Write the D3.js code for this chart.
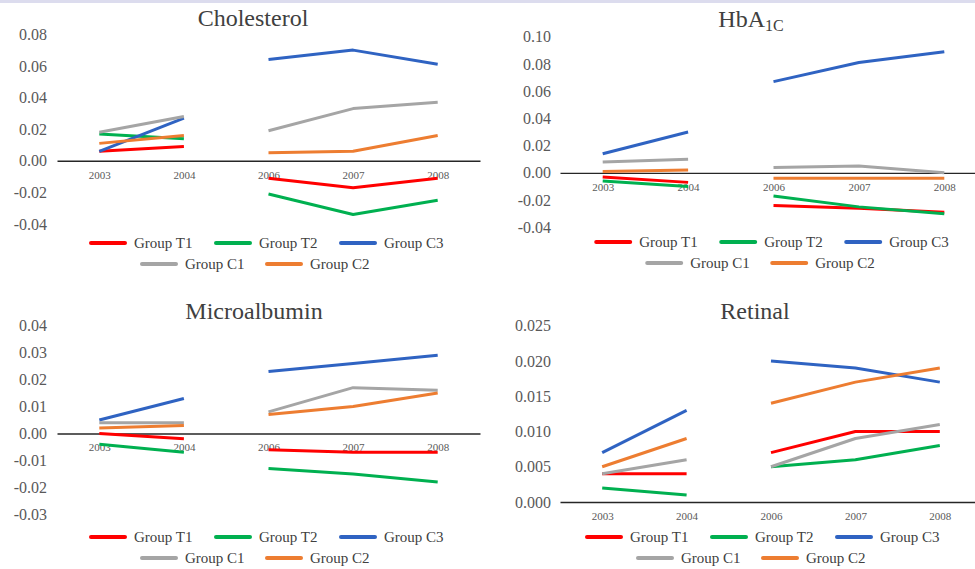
<!DOCTYPE html>
<html>
<head>
<meta charset="utf-8">
<script src="https://cdn.jsdelivr.net/npm/d3@7"></script>
<style>
    body { margin: 0; background: #fff; }
    svg text { font-family: "Liberation Serif", "Times New Roman", serif; }
</style>
</head>
<body>
<svg id="chart" width="975" height="569"></svg>
<script>
// categories (there is no 2005, so the lines break between 2004 and 2006)
const years = ["2003", "2004", "2006", "2007", "2008"]
const periods = [0, 0, 1, 1, 1]
const groups = ["Group T1", "Group T2", "Group C3", "Group C1", "Group C2"]

// values, one row per group in the order above
const cholesterol = [
    [0.006, 0.009, -0.011, -0.017, -0.011],
    [0.017, 0.014, -0.021, -0.034, -0.025],
    [0.006, 0.027, 0.064, 0.070, 0.061],
    [0.018, 0.028, 0.019, 0.033, 0.037],
    [0.011, 0.016, 0.005, 0.006, 0.016],
]
const hba1c = [
    [-0.003, -0.007, -0.024, -0.026, -0.029],
    [-0.006, -0.010, -0.017, -0.025, -0.030],
    [0.014, 0.030, 0.067, 0.081, 0.089],
    [0.008, 0.010, 0.004, 0.005, 0.000],
    [0.001, 0.002, -0.004, -0.004, -0.004],
]
const microalbumin = [
    [0.000, -0.002, -0.006, -0.007, -0.007],
    [-0.004, -0.007, -0.013, -0.015, -0.018],
    [0.005, 0.013, 0.023, 0.026, 0.029],
    [0.004, 0.004, 0.008, 0.017, 0.016],
    [0.002, 0.003, 0.007, 0.010, 0.015],
]
const retinal = [
    [0.004, 0.004, 0.007, 0.010, 0.010],
    [0.002, 0.001, 0.005, 0.006, 0.008],
    [0.007, 0.013, 0.020, 0.019, 0.017],
    [0.004, 0.006, 0.005, 0.009, 0.011],
    [0.005, 0.009, 0.014, 0.017, 0.019],
]

// y tick labels
const cholesterolTicks = [-0.04, -0.02, 0, 0.02, 0.04, 0.06, 0.08]
const hba1cTicks = [-0.04, -0.02, 0, 0.02, 0.04, 0.06, 0.08, 0.1]
const microalbuminTicks = [-0.03, -0.02, -0.01, 0, 0.01, 0.02, 0.03, 0.04]
const retinalTicks = [0, 0.005, 0.01, 0.015, 0.02, 0.025]

const colors = ["#ff0000", "#00b050", "#2f63c2", "#a5a5a5", "#ed7d31"]
const serif = "Liberation Serif, Times New Roman, serif"

const panels = [
    { title: "Cholesterol", sub: "", values: cholesterol, ticks: cholesterolTicks, digits: 2,
      xRange: [57, 480], yRange: [224, 34.3], labelX: 47, titleX: 253, titleY: 26, legendX: 268.5, legendY: 243 },
    { title: "HbA", sub: "1C", values: hba1c, ticks: hba1cTicks, digits: 2,
      xRange: [560, 987], yRange: [227.3, 36.7], labelX: 551, titleX: 751, titleY: 27, legendX: 773.7, legendY: 242 },
    { title: "Microalbumin", sub: "", values: microalbumin, ticks: microalbuminTicks, digits: 2,
      xRange: [57, 480], yRange: [514.3, 325.7], labelX: 47, titleX: 254, titleY: 319, legendX: 268.5, legendY: 537 },
    { title: "Retinal", sub: "", values: retinal, ticks: retinalTicks, digits: 3,
      xRange: [560, 982], yRange: [502, 325.7], labelX: 551, titleX: 755, titleY: 319, legendX: 764.5, legendY: 537 },
]

const svg = d3.select("#chart").attr("font-family", serif)

svg.append("rect")
    .attr("width", 975)
    .attr("height", 3)
    .attr("fill", "#dcdcee")

function drawPanel(p) {
    const g = svg.append("g")

    const x = d3.scalePoint().domain(years).range(p.xRange).padding(0.5)
    const y = d3.scaleLinear()
        .domain([d3.min(p.ticks), d3.max(p.ticks)])
        .range(p.yRange)

    // title
    const title = g.append("text")
        .attr("x", p.titleX)
        .attr("y", p.titleY)
        .attr("text-anchor", "middle")
        .attr("fill", "#404040")
        .attr("font-size", 24)
        .text(p.title)
    if (p.sub) {
        title.append("tspan")
            .attr("dy", 4)
            .attr("font-size", 16)
            .text(p.sub)
    }

    // y labels, no axis line
    const yAxis = g.append("g")
        .attr("transform", `translate(${p.labelX}, 0)`)
        .call(d3.axisLeft(y)
            .tickValues(p.ticks)
            .tickSize(0)
            .tickPadding(0)
            .tickFormat((d) => d.toFixed(p.digits)))
        .attr("font-family", serif)
        .attr("font-size", 16)
    yAxis.select(".domain").remove()
    yAxis.selectAll("text").attr("fill", "#595959")

    // x axis sits on zero
    const xAxis = g.append("g")
        .attr("transform", `translate(0, ${y(0)})`)
        .call(d3.axisBottom(x).tickSize(0).tickSizeOuter(0).tickPadding(10))
        .attr("font-family", serif)
        .attr("font-size", 11)
    xAxis.select(".domain")
        .attr("stroke", "#262626")
        .attr("stroke-width", 1.4)
    xAxis.selectAll("text").attr("fill", "#595959")

    // one line per group and period
    const line = d3.line()
        .x((d) => x(d.year))
        .y((d) => y(d.value))

    p.values.forEach((row, i) => {
        const pts = row.map((v, j) => ({ year: years[j], value: v, period: periods[j] }))
        d3.groups(pts, (d) => d.period).forEach(([, seg]) => {
            g.append("path")
                .datum(seg)
                .attr("fill", "none")
                .attr("stroke", colors[i])
                .attr("stroke-width", 3)
                .attr("stroke-linejoin", "round")
                .attr("d", line)
        })
    })

    // legend, three items on the first row, two on the second
    const pitch = 125
    const rows = [
        { start: p.legendX - 177.5, y: p.legendY, items: [0, 1, 2] },
        { start: p.legendX - 126.5, y: p.legendY + 21, items: [3, 4] },
    ]
    rows.forEach((r) => {
        r.items.forEach((gi, k) => {
            const lx = r.start + k * pitch
            g.append("line")
                .attr("x1", lx)
                .attr("x2", lx + 34)
                .attr("y1", r.y)
                .attr("y2", r.y)
                .attr("stroke", colors[gi])
                .attr("stroke-width", 4)
                .attr("stroke-linecap", "round")
            g.append("text")
                .attr("x", lx + 43)
                .attr("y", r.y)
                .attr("dy", "0.33em")
                .attr("fill", "#404040")
                .attr("font-size", 15)
                .text(groups[gi])
        })
    })
}

panels.forEach(drawPanel)
</script>
</body>
</html>
